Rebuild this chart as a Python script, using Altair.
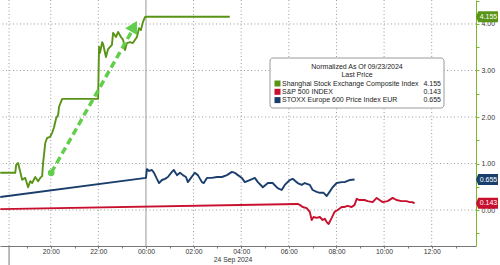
import altair as alt
import pandas as pd

# ---------------- data (hours relative to 00:00 24 Sep 2024, normalized value) -------------
series_names = ["Shanghai Stock Exchange Composite Index", "S&P 500 INDEX", "STOXX Europe 600 Price Index EUR"]
series_colors = ["#5a9416", "#c8102e", "#1b3f6d"]
last_values = [4.155, 0.143, 0.655]
last_labels = ["4.155", "0.143", "0.655"]

sh_h = [-6.12, -5.49, -5.45, -5.37, -5.28, -5.20, -5.07, -4.95, -4.86, -4.78, -4.65, -4.53, -4.44, -4.36,
        -4.32, -4.23, -4.15, -4.03, -3.94, -3.86, -3.77, -3.69, -3.65, -3.52, -2.01, -1.97, -1.93, -1.84,
        -1.80, -1.68, -1.59, -1.43, -1.38, -1.26, -1.17, -1.05, -0.96, -0.88, -0.80, -0.67, -0.55, -0.38,
        -0.29, -0.21, -0.13, -0.04, 0.04, 3.52]
sh_v = [0.80, 0.80, 0.97, 1.01, 0.82, 0.65, 0.69, 0.49, 0.62, 0.58, 0.71, 0.62, 0.69, 0.73,
        1.01, 1.44, 1.55, 1.57, 1.66, 1.78, 1.98, 2.04, 2.22, 2.39, 2.39, 3.51, 3.38, 3.61,
        3.57, 3.29, 3.46, 3.55, 3.81, 3.72, 3.83, 3.72, 3.66, 3.44, 3.59, 3.61, 3.59, 3.72,
        3.91, 3.87, 4.04, 4.15, 4.155, 4.155]

sp_h = [-6.12, 6.37, 6.46, 6.58, 6.75, 6.88, 6.96, 7.04, 7.17, 7.30, 7.42, 7.51, 7.59, 7.67, 7.80, 7.92,
        8.05, 8.22, 8.34, 8.47, 8.64, 8.76, 8.85, 8.97, 9.18, 9.31, 9.52, 9.69, 9.81, 9.94, 10.15, 10.36,
        10.52, 10.73, 10.94, 11.07, 11.19, 11.28]
sp_v = [0.02, 0.13, 0.11, 0.065, 0.04, -0.04, -0.215, -0.15, -0.17, -0.15, -0.215, -0.19, -0.26, -0.30,
        -0.17, -0.04, 0.0, 0.065, 0.065, 0.09, 0.065, 0.11, 0.24, 0.215, 0.215, 0.19, 0.17, 0.26, 0.215,
        0.17, 0.19, 0.26, 0.215, 0.19, 0.19, 0.17, 0.17, 0.143]

sx_h = [-6.12, 0.0, 0.04, 0.13, 0.25, 0.34, 0.46, 0.55, 0.67, 0.80, 0.92, 1.09, 1.17, 1.30, 1.43, 1.55,
        1.68, 1.76, 1.89, 2.05, 2.18, 2.35, 2.43, 2.56, 2.77, 2.98, 3.19, 3.40, 3.61, 3.73, 3.86, 4.03,
        4.15, 4.36, 4.57, 4.70, 4.91, 5.12, 5.32, 5.53, 5.70, 5.83, 6.04, 6.16, 6.37, 6.54, 6.67, 6.88,
        7.00, 7.17, 7.30, 7.46, 7.59, 7.71, 7.84, 8.01, 8.22, 8.34, 8.55, 8.76]
sx_v = [0.28, 0.69, 0.88, 0.84, 0.86, 0.80, 0.67, 0.58, 0.645, 0.67, 0.71, 0.82, 0.86, 0.75, 0.80, 0.75,
        0.71, 0.60, 0.69, 0.80, 0.75, 0.60, 0.58, 0.69, 0.69, 0.71, 0.71, 0.75, 0.82, 0.80, 0.75, 0.69,
        0.60, 0.645, 0.69, 0.60, 0.49, 0.58, 0.58, 0.47, 0.43, 0.54, 0.645, 0.67, 0.58, 0.54, 0.58, 0.54,
        0.43, 0.39, 0.37, 0.37, 0.30, 0.39, 0.49, 0.58, 0.60, 0.60, 0.645, 0.655]

arrow_h = [-3.98, -0.63]
arrow_v = [0.80, 3.81]
arrow_head_h = [-0.50]
arrow_head_v = [3.95]

x_grid_hours = [-4, -2, 2, 4, 6, 8, 10, 12]
y_grid_values = [0, 1, 2, 3, 4]
session_break = [-5.75]
midnight = [0]
date_label = "24 Sep 2024"
legend_title = ["Normalized As Of 09/23/2024", "Last Price"]

# ---------------- tables -------------
rows = []
for name, hs, vs in zip(series_names, [sh_h, sp_h, sx_h], [sh_v, sp_v, sx_v]):
    for i, (h, v) in enumerate(zip(hs, vs)):
        rows.append({"series": name, "h": h, "v": v, "i": i})
df = pd.DataFrame(rows)
tags = pd.DataFrame({"series": series_names, "v": last_values, "label": last_labels})

FONT = "Liberation Sans"
xs = alt.Scale(domain=[-6.13, 13.86], nice=False, zero=False)
ys = alt.Scale(domain=[-0.774, 4.516], nice=False, zero=False)
cs = alt.Scale(domain=series_names, range=series_colors)

xaxis = alt.Axis(
    title=None, values=list(range(-5, 14)), grid=False,
    labelExpr="(datum.value % 2 == 0 && datum.value >= -4) ? format((datum.value + 24) % 24, '02d') + ':00' : ''",
    labelFontSize=6.8, labelColor="#333", labelFont=FONT, labelPadding=0,
    tickSize=2, tickColor="#777", domainColor="#777", labelFlush=False, labelOverlap=False,
)
yaxis = alt.Axis(
    title=None, orient="right", values=[-0.5 + 0.5 * k for k in range(11)], grid=False,
    labelExpr="datum.value % 1 == 0 ? format(datum.value, '.2f') : ''",
    labelFontSize=7, labelColor="#333", labelFont=FONT, labelPadding=2,
    tickSize=3, tickColor="#7cb82f", domainColor="#7cb82f", labelOverlap=False, labelFlush=False,
)
X = lambda f="h:Q": alt.X(f, scale=xs, axis=xaxis)
Y = lambda f="v:Q": alt.Y(f, scale=ys, axis=yaxis)

ygrid = alt.Chart(pd.DataFrame({"v": y_grid_values})).mark_rule(
    color="#9a9a9a", strokeDash=[1, 2.5], strokeWidth=1).encode(y=Y())
xgrid = alt.Chart(pd.DataFrame({"h": x_grid_hours + session_break})).mark_rule(
    color="#9a9a9a", strokeDash=[1, 2.5], strokeWidth=1).encode(x=X())
mid = alt.Chart(pd.DataFrame({"h": midnight})).mark_rule(
    color="#999", strokeWidth=1).encode(x=X())
brk = alt.Chart(pd.DataFrame({"h": session_break})).mark_rule(
    color="#777", strokeWidth=1, clip=False).encode(x=X(), y=alt.value(246), y2=alt.value(265))

lines = alt.Chart(df).mark_line(strokeWidth=1.9, strokeJoin="round").encode(
    x=X(), y=Y(), color=alt.Color("series:N", scale=cs, legend=None),
    detail="series:N", order="i:Q")

ARROW = "#62cf4c"
arrow = alt.Chart(pd.DataFrame({"h": arrow_h, "v": arrow_v})).mark_line(
    color=ARROW, strokeWidth=3.5, strokeDash=[7, 4]).encode(x=X(), y=Y())
arrow_dot = alt.Chart(pd.DataFrame({"h": arrow_h[:1], "v": arrow_v[:1]})).mark_point(
    color=ARROW, filled=True, opacity=1, size=45, shape="circle").encode(x=X(), y=Y())
arrow_head = alt.Chart(pd.DataFrame({"h": arrow_head_h, "v": arrow_head_v})).mark_point(
    color=ARROW, filled=True, opacity=1, size=190, shape="triangle-up", angle=29).encode(x=X(), y=Y())

# legend box
lbox = alt.Chart(pd.DataFrame({"a": [0]})).mark_rect(
    fill="white", stroke="#9a9a9a", strokeWidth=1, cornerRadius=3).encode(
    x=alt.value(270), x2=alt.value(444), y=alt.value(58), y2=alt.value(108))
ltitle = [
    alt.Chart(pd.DataFrame({"t": [t]})).mark_text(
        font=FONT, fontSize=7, color="#222", align="center", baseline="middle").encode(
        x=alt.value(357), y=alt.value(67 + 8 * k), text="t:N")
    for k, t in enumerate(legend_title)
]
lrows = []
for k, (name, col, lab) in enumerate(zip(series_names, series_colors, last_labels)):
    d = pd.DataFrame({"series": [name], "label": [lab]})
    yy = 83.5 + 8.3 * k
    lrows.append(alt.Chart(d).mark_square(size=36, filled=True, opacity=1, color=col).encode(
        x=alt.value(277.5), y=alt.value(yy)))
    lrows.append(alt.Chart(d).mark_text(font=FONT, fontSize=7, color="#222", align="left",
                                        baseline="middle").encode(
        x=alt.value(282), y=alt.value(yy), text="series:N"))
    lrows.append(alt.Chart(d).mark_text(font=FONT, fontSize=7, color="#222", align="right",
                                        baseline="middle").encode(
        x=alt.value(441), y=alt.value(yy), text="label:N"))

tag_shape = "M -1 0 L -0.8 -0.5 L 1 -0.5 L 1 0.5 L -0.8 0.5 Z"
tag_marks = alt.Chart(tags).mark_point(shape=tag_shape, filled=True, opacity=1, size=484,
                                       strokeWidth=0, clip=False).encode(
    x=alt.value(487), y=Y(), color=alt.Color("series:N", scale=cs, legend=None))
tag_text = alt.Chart(tags).mark_text(font=FONT, fontSize=7, color="white", align="center",
                                     baseline="middle", clip=False).encode(
    x=alt.value(488.5), y=Y(), text="label:N")

date_txt = alt.Chart(pd.DataFrame({"t": [date_label]})).mark_text(
    font=FONT, fontSize=6.8, color="#333", align="center", baseline="middle", clip=False).encode(
    x=alt.value(233), y=alt.value(260), text="t:N")

chart = alt.layer(
    ygrid, xgrid, mid, brk, lines, arrow, arrow_dot, arrow_head, lbox, *ltitle, *lrows,
    tag_marks, tag_text, date_txt
).properties(
    width=476, height=246,
    padding={"left": 0, "top": 0, "right": 24, "bottom": 19},
    autosize=alt.AutoSizeParams(type="none"),
    background="white",
).configure_view(stroke=None).configure_text(font=FONT)

chart.save("out.html", embed_options={"renderer": "svg", "actions": False})
